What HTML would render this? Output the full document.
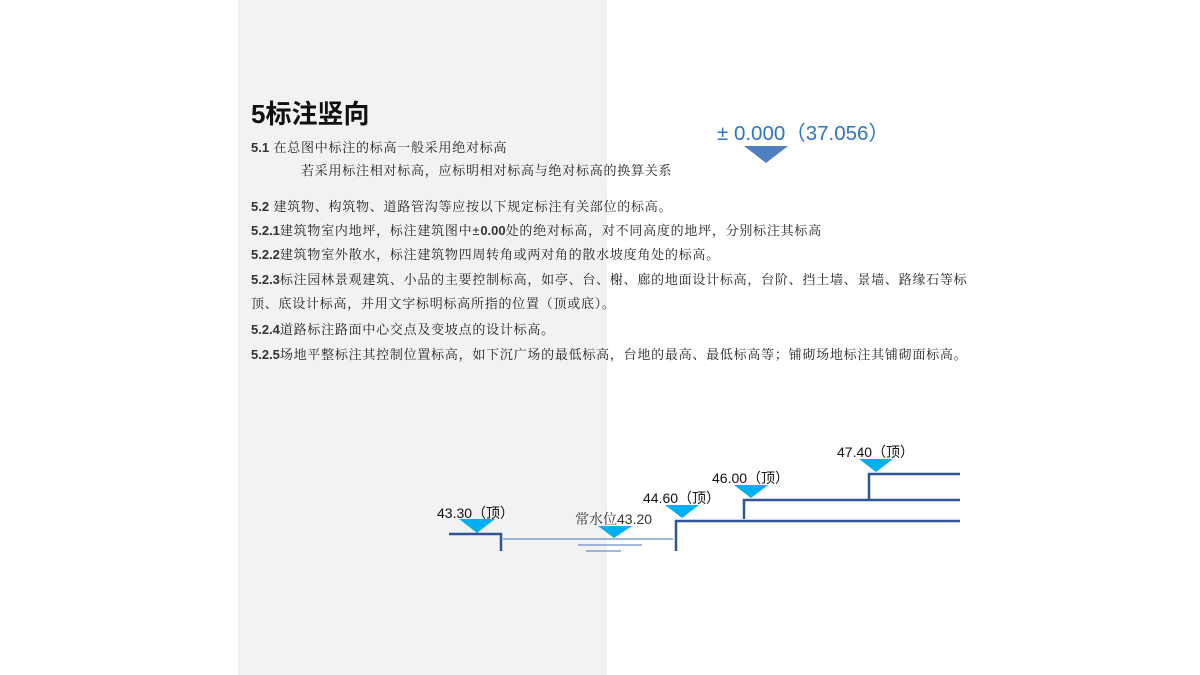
<!DOCTYPE html>
<html><head><meta charset="utf-8"><style>
body{margin:0;width:1200px;height:675px;position:relative;background:#fff;overflow:hidden;font-family:"Liberation Sans","Noto Serif CJK SC",serif;}
.g{position:absolute;left:238px;top:0;width:369px;height:675px;background:#f2f2f2}
.t{position:absolute;white-space:nowrap;font-size:13px;color:#222;letter-spacing:0.75px;font-family:"Liberation Sans","Noto Serif CJK SC",serif}
.t b{font-family:"Liberation Sans",sans-serif;font-weight:bold;letter-spacing:0;color:#333}
h1{position:absolute;left:251px;top:94px;margin:0;font-size:26px;font-weight:bold;font-family:"Liberation Sans","Noto Sans CJK SC",sans-serif;color:#111}
.lb{position:absolute;white-space:nowrap;font-size:14px;color:#111;font-family:"Liberation Sans","Noto Sans CJK SC",sans-serif}
</style></head><body>
<div class="g"></div>
<h1>5标注竖向</h1>
<div class="t" style="left:251px;top:137px"><b>5.1</b> 在总图中标注的标高一般采用绝对标高</div>
<div class="t" style="left:301px;top:160px">若采用标注相对标高，应标明相对标高与绝对标高的换算关系</div>
<div class="t" style="left:251px;top:196px"><b>5.2</b> 建筑物、构筑物、道路管沟等应按以下规定标注有关部位的标高。</div>
<div class="t" style="left:251px;top:220px"><b>5.2.1</b>建筑物室内地坪，标注建筑图中±<b>0.00</b>处的绝对标高，对不同高度的地坪，分别标注其标高</div>
<div class="t" style="left:251px;top:244px"><b>5.2.2</b>建筑物室外散水，标注建筑物四周转角或两对角的散水坡度角处的标高。</div>
<div class="t" style="left:251px;top:269px"><b>5.2.3</b>标注园林景观建筑、小品的主要控制标高，如亭、台、榭、廊的地面设计标高，台阶、挡土墙、景墙、路缘石等标</div>
<div class="t" style="left:251px;top:293px">顶、底设计标高，并用文字标明标高所指的位置（顶或底）。</div>
<div class="t" style="left:251px;top:319px"><b>5.2.4</b>道路标注路面中心交点及变坡点的设计标高。</div>
<div class="t" style="left:251px;top:344px"><b>5.2.5</b>场地平整标注其控制位置标高，如下沉广场的最低标高，台地的最高、最低标高等；铺砌场地标注其铺砌面标高。</div>
<div class="lb" style="left:717px;top:116px;font-size:20.5px;color:#2e75c6">± 0.000（37.056）</div>
<div class="lb" style="left:437px;top:503px">43.30（顶）</div>
<div class="lb" style="left:575px;top:509px;font-family:'Liberation Sans','Noto Serif CJK SC',serif;color:#333">常水位43.20</div>
<div class="lb" style="left:643px;top:488px">44.60（顶）</div>
<div class="lb" style="left:712px;top:468px">46.00（顶）</div>
<div class="lb" style="left:837px;top:442px">47.40（顶）</div>
<svg width="1200" height="675" style="position:absolute;left:0;top:0">
<polygon points="744,146 788,146 766,163" fill="#4f7fc0"/>
<g stroke="#2f5597" stroke-width="2.5" fill="none">
<polyline points="449,534 501,534 501,551"/>
<polyline points="676,551 676,521 960,521"/>
<polyline points="744,519 744,500 960,500"/>
<polyline points="869,500 869,474 960,474"/>
</g>
<line x1="503" y1="539" x2="673" y2="539" stroke="#5b8fd0" stroke-width="1.3"/>
<line x1="578" y1="545" x2="642" y2="545" stroke="#4472c4" stroke-width="1"/>
<line x1="586" y1="551" x2="621" y2="551" stroke="#4472c4" stroke-width="1"/>
<g fill="#00b0f0">
<polygon points="459,519 495,519 477,533"/>
<polygon points="598,526 632,526 614,538"/>
<polygon points="665,505 699,505 682,518"/>
<polygon points="734,485 768,485 751,498"/>
<polygon points="859,459 893,459 876,472"/>
</g>
</svg>
</body></html>
